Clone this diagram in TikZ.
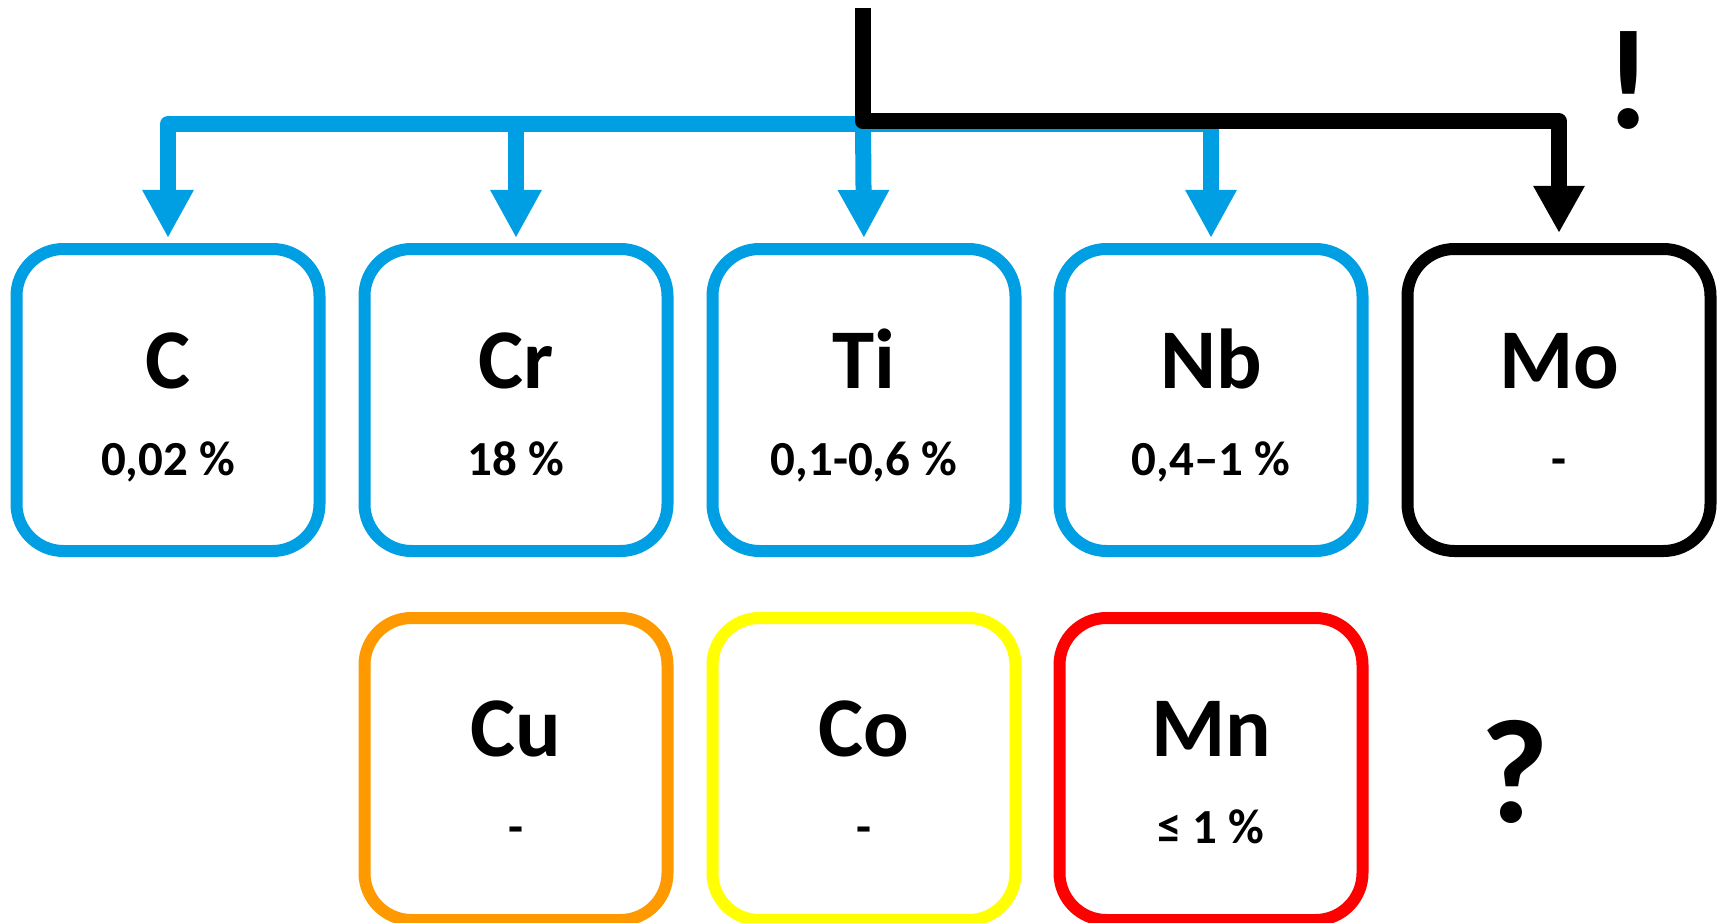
\documentclass[tikz,border=0pt]{standalone}
\usepackage{fontspec}
\setmainfont{Carlito}
\usetikzlibrary{arrows.meta}
\definecolor{cblue}{RGB}{0,158,226}
\definecolor{corange}{RGB}{255,153,0}
\definecolor{cyellow}{RGB}{255,255,0}
\definecolor{cred}{RGB}{255,0,0}
\tikzset{
  elbox/.style={draw=#1, line width=12pt, rounded corners=47pt, minimum width=303pt, minimum height=302pt, inner sep=0pt, outer sep=0pt, fill=white},
  sym/.style={anchor=base, font=\fontsize{85}{90}\selectfont\bfseries, inner sep=0pt},
  val/.style={anchor=base, font=\fontsize{49}{55}\selectfont\bfseries, inner sep=0pt},
  bigsign/.style={anchor=base, font=\fontsize{#1}{#1}\selectfont\bfseries, inner sep=0pt},
  bluearrow/.style={draw=cblue, line width=16pt, line join=round, -{Triangle[width=48pt,length=48pt]}, shorten >=11pt},
  blackarrow/.style={draw=black, line width=16pt, line join=round, -{Triangle[width=48pt,length=47pt]}, shorten >=16pt}
}
\begin{document}
\begin{tikzpicture}[x=1pt,y=-1pt]
\useasboundingbox (0,0) rectangle (1717,923);
% top row
\node[elbox=cblue] (C) at (168,400) {};
\node[elbox=cblue] (Cr) at (516,400) {};
\node[elbox=cblue] (Ti) at (864,400) {};
\node[elbox=cblue] (Nb) at (1211,400) {};
\node[elbox=black] (Mo) at (1559,400) {};
% bottom row
\node[elbox=corange] (Cu) at (516,769) {};
\node[elbox=cyellow] (Co) at (864,769) {};
\node[elbox=cred] (Mn) at (1211,769) {};
% texts
\node[sym] (Ct) at (168,388) {C};
\node[val] (Cv) at (168,475) {0,02 \%};
\node[sym] (Crt) at (516,388) {Cr};
\node[val] (Crv) at (516,475) {18 \%};
\node[sym] (Tit) at (864,388) {Ti};
\node[val] (Tiv) at (864,475) {0,1-0,6 \%};
\node[sym] (Nbt) at (1211,388) {Nb};
\node[val] (Nbv) at (1211,475) {0,4–1 \%};
\node[sym] (Mot) at (1559,388) {Mo};
\node[val] (Mov) at (1559,475) {-};
\node[sym] (Cut) at (516,756) {Cu};
\node[val] (Cuv) at (516,843) {-};
\node[sym] (Cot) at (864,756) {Co};
\node[val] (Cov) at (864,843) {-};
\node[sym] (Mnt) at (1211,756) {Mn};
\node[val] (Mnv) at (1211,843) {≤ 1 \%};
\node[bigsign=142] (excl) at (1629,129) {!};
\node[bigsign=148] (quest) at (1515,822) {?};
% connectors
\coordinate (top) at (863,8);
\coordinate (j) at (863,124);
\coordinate (k) at (863,121.5);
\draw[bluearrow] (j) -| (C.north);
\draw[bluearrow] (j) -| (Cr.north);
\draw[bluearrow] (j) -- (Ti.north);
\draw[bluearrow] (j) -| (Nb.north);
\draw[blackarrow] (top) -- (k) -| (Mo.north);
\end{tikzpicture}
\end{document}
